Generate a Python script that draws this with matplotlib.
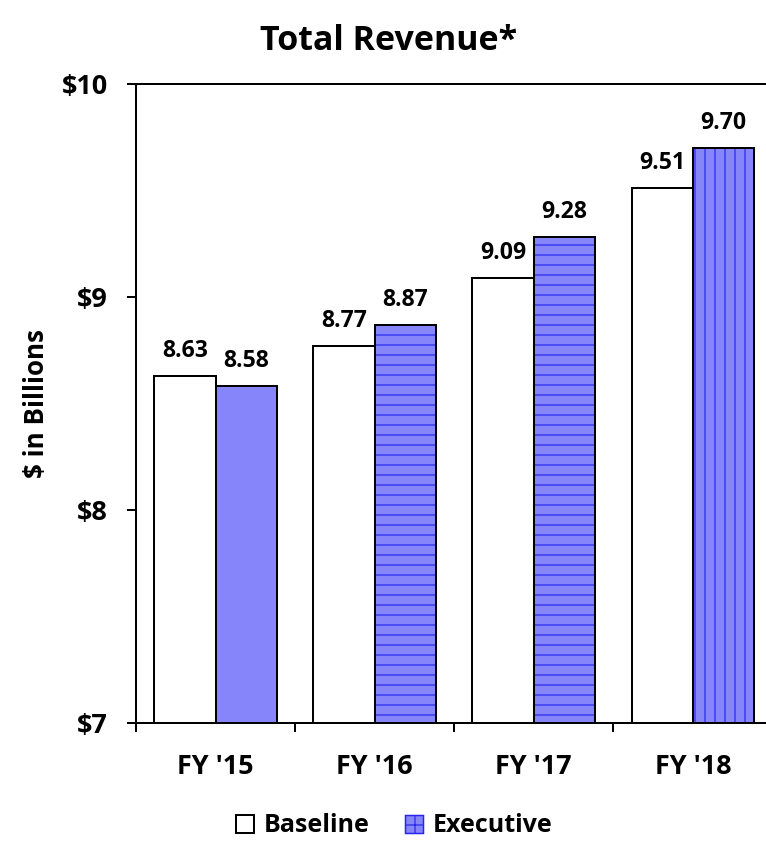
import numpy as np
import matplotlib
matplotlib.use("Agg")
import matplotlib.pyplot as plt
from matplotlib.patches import Patch

# values
years = ["FY '15", "FY '16", "FY '17", "FY '18"]
baseline = [8.63, 8.77, 9.09, 9.51]
executive = [8.58, 8.87, 9.28, 9.70]
exec_hatch = ["", "-", "-", "|"]
yticks = [7, 8, 9, 10]
ytick_labels = ["$7", "$8", "$9", "$10"]

DPI = 60  # hatch spacing in matplotlib is per inch; 60 dpi gives ~10px lines
PT = 72.0 / DPI  # points per pixel

plt.rcParams['font.family'] = ['Open Sans', 'DejaVu Sans']
plt.rcParams['font.weight'] = 'bold'
plt.rcParams['hatch.linewidth'] = 1.2 * PT

blue = '#8686FA'
hatch_blue = '#2626F0'

fig = plt.figure(figsize=(766 / DPI, 841 / DPI), dpi=DPI)
ax = fig.add_axes([136 / 766, 1 - 723 / 841, 630 / 766, (723 - 84) / 841])

x = np.arange(len(years))
w = 0.385

ax.bar(x - w / 2, baseline, w, bottom=0, color='white', edgecolor='black',
       linewidth=2 * PT, zorder=2)
for i in range(len(years)):
    ax.bar(x[i] + w / 2, executive[i], w, color=blue, edgecolor=hatch_blue,
           hatch=exec_hatch[i], linewidth=0, zorder=2)
ax.bar(x + w / 2, executive, w, fill=False, edgecolor='black',
       linewidth=2 * PT, zorder=3)

for i in range(len(years)):
    ax.annotate(f"{baseline[i]:.2f}", (x[i] - w / 2, baseline[i]),
                xytext=(0, 13 * PT), textcoords='offset points',
                ha='center', va='bottom', fontsize=23 * PT, fontweight='bold')
    ax.annotate(f"{executive[i]:.2f}", (x[i] + w / 2, executive[i]),
                xytext=(0, 13 * PT), textcoords='offset points',
                ha='center', va='bottom', fontsize=23 * PT, fontweight='bold')

ax.set_ylim(7, 10)
ax.set_xlim(-0.5, 3.46)
ax.set_yticks(yticks)
ax.set_yticklabels(ytick_labels, fontsize=27 * PT, fontweight='bold')
ax.tick_params(axis='y', direction='out', length=9 * PT, width=2 * PT,
               pad=19 * PT)

ax.set_xticks(x - 0.5)
ax.set_xticklabels([])
ax.tick_params(axis='x', which='major', direction='out', length=9 * PT,
               width=2 * PT)
ax.set_xticks(x, minor=True)
ax.set_xticklabels(years, minor=True, fontsize=27 * PT, fontweight='bold')
ax.tick_params(axis='x', which='minor', length=0, pad=31 * PT)

for s in ['left', 'bottom', 'top']:
    ax.spines[s].set_linewidth(2 * PT)
ax.spines['right'].set_visible(False)

ax.set_ylabel("$ in Billions", fontsize=26 * PT, fontweight='bold')
ax.yaxis.set_label_coords((50 - 136) / 630, 0.5)

fig.text(389 / 766, 1 - 41 / 841, "Total Revenue*", ha='center', va='center',
         fontsize=34 * PT, fontweight='bold')

handles = [Patch(facecolor='white', edgecolor='black', linewidth=2 * PT),
           Patch(facecolor=blue, edgecolor=hatch_blue, hatch='+',
                 linewidth=1.5 * PT)]
fig.legend(handles, ["Baseline", "Executive"], loc='center',
           bbox_to_anchor=(394 / 766, 1 - 826 / 841), ncol=2, frameon=False,
           prop={'size': 25 * PT, 'weight': 'bold'}, handlelength=0.72,
           handleheight=0.72, handletextpad=0.4, columnspacing=1.4)

fig.savefig("out.png", dpi=DPI)
